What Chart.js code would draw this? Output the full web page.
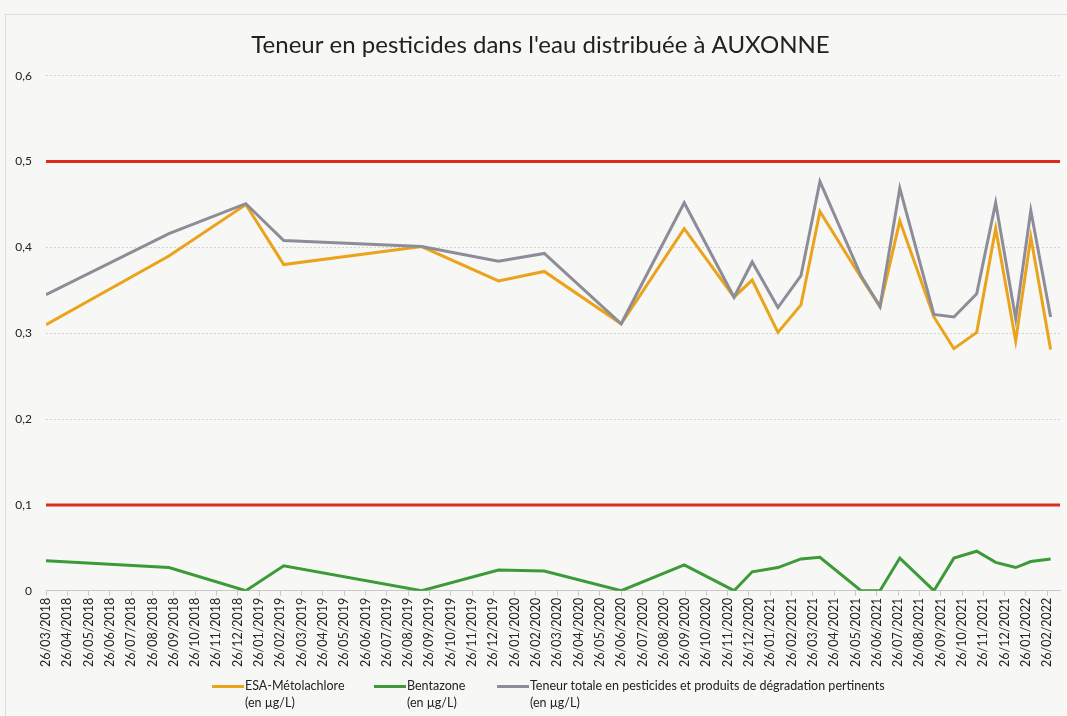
<!DOCTYPE html>
<html>
<head>
<meta charset="utf-8">
<script src="https://cdn.jsdelivr.net/npm/chart.js@4.4.1/dist/chart.umd.min.js"></script>
<style>
  html, body { margin: 0; padding: 0; background: #f7f7f5; }
  #wrap { position: relative; width: 1067px; height: 716px; overflow: hidden; font-family: Lato, sans-serif; }
  #frame { position: absolute; left: 5px; top: 14px; width: 1070px; height: 720px; border: 1px solid #dcdcdc; box-sizing: border-box; }
  #salesChart { position: absolute; left: 0; top: 0; }
  .legend-item { position: absolute; top: 677px; font-size: 12.5px; color: #222; line-height: 17px; }
  .legend-item .swatch { position: absolute; left: 0; top: 8px; width: 32px; height: 3px; }
  .legend-item .txt { margin-left: 33px; white-space: nowrap; }
</style>
</head>
<body>
<div id="wrap">
  <div id="frame"></div>
  <canvas id="salesChart" width="1067" height="716"></canvas>
  <div id="legend"></div>
</div>
<script>
// x axis tick labels (one per month)
const monthLabels = [
  '26/03/2018', '26/04/2018', '26/05/2018', '26/06/2018', '26/07/2018', '26/08/2018',
  '26/09/2018', '26/10/2018', '26/11/2018', '26/12/2018', '26/01/2019', '26/02/2019',
  '26/03/2019', '26/04/2019', '26/05/2019', '26/06/2019', '26/07/2019', '26/08/2019',
  '26/09/2019', '26/10/2019', '26/11/2019', '26/12/2019', '26/01/2020', '26/02/2020',
  '26/03/2020', '26/04/2020', '26/05/2020', '26/06/2020', '26/07/2020', '26/08/2020',
  '26/09/2020', '26/10/2020', '26/11/2020', '26/12/2020', '26/01/2021', '26/02/2021',
  '26/03/2021', '26/04/2021', '26/05/2021', '26/06/2021', '26/07/2021', '26/08/2021',
  '26/09/2021', '26/10/2021', '26/11/2021', '26/12/2021', '26/01/2022', '26/02/2022'
];

// sample dates, as months after 26/03/2018
const sampleMonths = [0, 5.77, 9.38, 11.16, 17.63, 21.24, 23.39, 27.0, 29.96, 32.3, 33.15, 34.36,
  35.44, 36.33, 38.26, 39.15, 40.08, 41.68, 42.62, 43.69, 44.58, 45.52, 46.23, 47.16];

const esaMetolachlore = [0.310, 0.390, 0.450, 0.380, 0.401, 0.361, 0.372, 0.311, 0.422, 0.342, 0.362, 0.301,
  0.333, 0.442, 0.365, 0.331, 0.431, 0.319, 0.282, 0.301, 0.422, 0.291, 0.412, 0.281];

const bentazone = [0.035, 0.027, 0.000, 0.029, 0.000, 0.024, 0.023, 0.000, 0.030, 0.000, 0.022, 0.027,
  0.037, 0.039, 0.000, 0.000, 0.038, 0.000, 0.038, 0.046, 0.033, 0.027, 0.034, 0.037];

const teneurTotale = [0.345, 0.416, 0.451, 0.408, 0.401, 0.384, 0.393, 0.311, 0.452, 0.342, 0.383, 0.330,
  0.367, 0.477, 0.367, 0.331, 0.469, 0.322, 0.319, 0.346, 0.452, 0.317, 0.443, 0.319];

// regulatory limits (red lines)
const limits = [0.5, 0.1];

const xMax = 47.6;

const points = values => values.map((v, i) => ({ x: sampleMonths[i], y: v }));

const seriesInfo = [
  { label: 'ESA-Métolachlore', unit: '(en µg/L)', color: '#eaa31b', data: esaMetolachlore, order: 2, left: 212 },
  { label: 'Bentazone', unit: '(en µg/L)', color: '#3c9b38', data: bentazone, order: 1, left: 374 },
  { label: 'Teneur totale en pesticides et produits de dégradation pertinents', unit: '(en µg/L)', color: '#8c8d98', data: teneurTotale, order: 0, left: 497 }
];

const datasets = seriesInfo.map(s => ({
  label: s.label,
  data: points(s.data),
  borderColor: s.color,
  backgroundColor: s.color,
  borderWidth: 3,
  pointRadius: 0,
  tension: 0,
  order: s.order
}));

limits.forEach(v => {
  datasets.push({
    label: 'limite ' + v,
    data: [{ x: 0, y: v }, { x: xMax, y: v }],
    borderColor: '#df2a1e',
    borderWidth: 3,
    pointRadius: 0,
    order: 5
  });
});

const ctx = document.getElementById('salesChart').getContext('2d');
new Chart(ctx, {
  type: 'line',
  data: { datasets: datasets },
  options: {
    responsive: false,
    animation: false,
    layout: { padding: { left: 14, right: 0, top: 0, bottom: 47 } },
    plugins: {
      legend: { display: false },
      tooltip: { enabled: false },
      title: {
        display: true,
        text: "Teneur en pesticides dans l'eau distribuée à AUXONNE",
        color: '#222',
        font: { family: 'Lato', size: 24, weight: 'normal' },
        padding: { top: 31, bottom: 16 }
      }
    },
    scales: {
      x: {
        type: 'linear',
        min: 0,
        max: xMax,
        afterBuildTicks: axis => { axis.ticks = monthLabels.map((_, i) => ({ value: i })); },
        afterFit: axis => { axis.paddingLeft = 0; axis.paddingRight = 7; },
        ticks: {
          autoSkip: false,
          minRotation: 90,
          maxRotation: 90,
          padding: 2,
          color: '#222',
          font: { family: 'Lato', size: 12.5 },
          callback: value => monthLabels[value]
        },
        grid: { drawOnChartArea: false, drawTicks: true, tickLength: 5, color: '#c8c8c8' },
        border: { display: true, color: '#c8c8c8' }
      },
      y: {
        min: 0,
        max: 0.6,
        afterFit: axis => { axis.width = 32; },
        ticks: {
          stepSize: 0.1,
          padding: 14,
          color: '#222',
          font: { family: 'Lato', size: 12 },
          callback: value => value === 0 ? '0' : value.toFixed(1).replace('.', ',')
        },
        grid: { drawTicks: false, color: ctx => ctx.tick.value === 0 ? 'rgba(0,0,0,0)' : '#d2d2d2' },
        border: { display: false, dash: [2, 2] }
      }
    }
  }
});

// legend below the chart, two lines per item
const legend = document.getElementById('legend');
legend.innerHTML = seriesInfo.map(s => `
  <div class="legend-item" style="left:${s.left}px">
    <div class="swatch" style="background:${s.color}"></div>
    <div class="txt">${s.label}<br>${s.unit}</div>
  </div>`).join('');
</script>
</body>
</html>
